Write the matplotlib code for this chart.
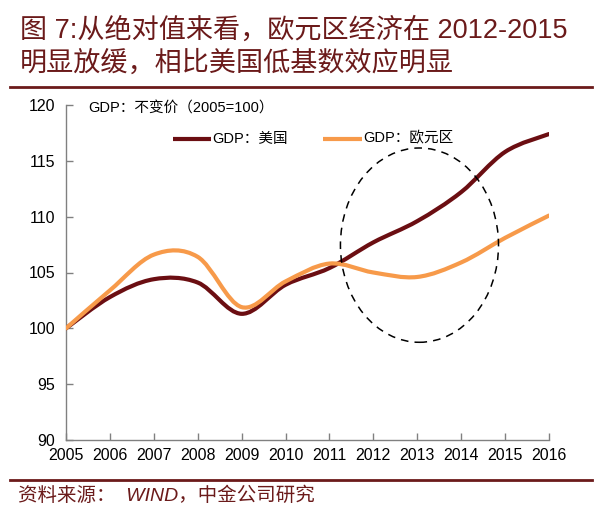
import matplotlib
matplotlib.use("Agg")
import matplotlib.pyplot as plt
import numpy as np
from matplotlib.path import Path
from matplotlib.patches import PathPatch, Ellipse

plt.rcParams['font.family'] = ['Liberation Sans', 'Noto Sans CJK SC', 'DejaVu Sans']

years = [2005, 2006, 2007, 2008, 2009, 2010, 2011, 2012, 2013, 2014, 2015, 2016]
gdp_us = [100.0, 102.8, 104.4, 104.1, 101.3, 103.9, 105.4, 107.7, 109.6, 112.2, 115.8, 117.4]
gdp_eu = [100.0, 103.4, 106.6, 106.4, 101.9, 104.2, 105.8, 105.0, 104.6, 105.9, 108.1, 110.1]
y_ticks = [90, 95, 100, 105, 110, 115, 120]

c_us = '#6B0E12'
c_eu = '#F79A4A'
c_title = '#6B1A1A'


def smooth_path(x, y):
    # excel-like smoothed line: cubic bezier with catmull-rom control points
    x = np.asarray(x, float)
    y = np.asarray(y, float)
    n = len(x)
    verts = [(x[0], y[0])]
    codes = [Path.MOVETO]
    for i in range(n - 1):
        x0, y0 = (x[i - 1], y[i - 1]) if i > 0 else (x[i], y[i])
        x3, y3 = (x[i + 2], y[i + 2]) if i + 2 < n else (x[i + 1], y[i + 1])
        c1 = (x[i] + (x[i + 1] - x0) / 6, y[i] + (y[i + 1] - y0) / 6)
        c2 = (x[i + 1] - (x3 - x[i]) / 6, y[i + 1] - (y3 - y[i]) / 6)
        verts += [c1, c2, (x[i + 1], y[i + 1])]
        codes += [Path.CURVE4] * 3
    return Path(verts, codes)


fig = plt.figure(figsize=(6.02, 5.15), dpi=100)
ax = fig.add_axes([66 / 602, 1 - 440 / 515, (549 - 66) / 602, (440 - 105) / 515])

for vals, col in [(gdp_us, c_us), (gdp_eu, c_eu)]:
    ax.add_patch(PathPatch(smooth_path(years, vals), facecolor='none',
                           edgecolor=col, lw=3, capstyle='round', zorder=3))

ax.add_patch(Ellipse((2013.05, 107.45), 3.6, 17.4, facecolor='none',
                     edgecolor='black', lw=1.1, ls=(0, (5, 4)), zorder=4))

ax.set_xlim(2005, 2016)
ax.set_ylim(90, 120)
ax.set_xticks(years)
ax.set_yticks(y_ticks)
ax.tick_params(direction='in', length=5, color='#808080', labelsize=11.5,
               labelcolor='black', width=1)
ax.tick_params(axis='x', pad=6)
ax.tick_params(axis='y', pad=8)
for s in ['top', 'right']:
    ax.spines[s].set_visible(False)
for s in ['left', 'bottom']:
    ax.spines[s].set_color('#808080')
    ax.spines[s].set_linewidth(1)

# legend drawn by hand
ax.plot([2007.43, 2008.3], [117.0, 117.0], color=c_us, lw=3, solid_capstyle='butt')
ax.text(2008.33, 117.0, 'GDP：美国', fontsize=10.5, va='center', ha='left')
ax.plot([2010.85, 2011.75], [117.0, 117.0], color=c_eu, lw=3, solid_capstyle='butt')
ax.text(2011.78, 117.0, 'GDP：欧元区', fontsize=10.5, va='center', ha='left')
ax.text(2005.5, 119.7, 'GDP：不变价（2005=100）', fontsize=10.5, va='center', ha='left')

# title block
fig.text(20 / 602, 1 - 31 / 515, '图 7:从绝对值来看，欧元区经济在 2012-2015',
         fontsize=19.5, color=c_title, va='center', ha='left')
fig.text(20 / 602, 1 - 64 / 515, '明显放缓，相比美国低基数效应明显',
         fontsize=19.5, color=c_title, va='center', ha='left')
fig.add_artist(plt.Line2D([10 / 602, 592 / 602], [1 - 87 / 515, 1 - 87 / 515],
                          color=c_title, lw=2))
fig.add_artist(plt.Line2D([10 / 602, 592 / 602], [1 - 480 / 515, 1 - 480 / 515],
                          color=c_title, lw=2))
fig.text(18 / 602, 1 - 496 / 515, '资料来源：  WIND，中金公司研究',
         fontsize=14, color=c_title, style='italic', va='center', ha='left')

fig.savefig('out.png', dpi=100)
